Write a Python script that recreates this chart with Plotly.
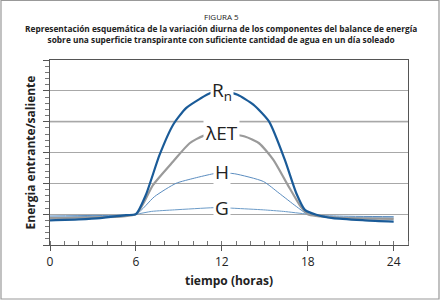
import plotly.graph_objects as go

# --- data ---
t_rn = [0, 2, 3.5, 5.3, 6, 6.7, 7.65, 8.6, 9.5, 10.5, 11.2, 12, 13.1, 14.2, 15.3, 16.4, 17.2, 17.8, 18.6, 19.75, 22, 24]
v_rn = [-0.2, -0.17, -0.13, -0.03, 0, 0.63, 1.92, 2.9, 3.44, 3.75, 3.93, 4.0, 3.87, 3.55, 3.0, 1.76, 0.68, 0.14, -0.02, -0.13, -0.2, -0.24]

t_et = [0, 3, 6, 7.2, 8.6, 9.75, 10.7, 12, 13.6, 14.6, 15.6, 16.6, 17.5, 18, 20, 24]
v_et = [-0.13, -0.1, 0, 0.95, 1.71, 2.3, 2.54, 2.62, 2.52, 2.3, 1.76, 0.95, 0.25, 0, -0.11, -0.15]

t_h = [0, 3, 6, 7.3, 8.8, 10.1, 11.4, 12, 12.9, 14.9, 16.0, 17.2, 18, 20, 24]
v_h = [-0.06, -0.04, 0.0, 0.57, 1.0, 1.17, 1.31, 1.34, 1.31, 1.06, 0.68, 0.25, 0, -0.06, -0.08]

t_g = [0, 3, 6, 7.1, 8.7, 11.4, 12, 12.9, 14.9, 16.3, 18, 20, 24]
v_g = [-0.1, -0.07, 0, 0.09, 0.14, 0.21, 0.21, 0.19, 0.14, 0.09, 0, -0.1, -0.12]

x_ticks = [0, 6, 12, 18, 24]
labels = ["R<sub>n</sub>", "λET", "H", "G"]
label_x = [12, 12, 12, 12]
label_y = [4.0, 2.62, 1.36, 0.2]

fig = go.Figure()
fig.add_trace(go.Scatter(x=t_g, y=v_g, mode="lines", line=dict(color="#6b9bc8", width=1, shape="spline", smoothing=0.6)))
fig.add_trace(go.Scatter(x=t_h, y=v_h, mode="lines", line=dict(color="#5b8dc0", width=1, shape="spline", smoothing=0.6)))
fig.add_trace(go.Scatter(x=t_et, y=v_et, mode="lines", line=dict(color="#9a9a9a", width=2.2, shape="spline", smoothing=0.6)))
fig.add_trace(go.Scatter(x=t_rn, y=v_rn, mode="lines", line=dict(color="#1a5b98", width=2.2, shape="spline", smoothing=0.6)))

for lab, lx, ly in zip(labels, label_x, label_y):
    fig.add_annotation(x=lx, y=ly, text=lab, showarrow=False, bgcolor="white",
                       font=dict(family="Open Sans", size=19, color="#222"),
                       borderpad=1, xanchor="center", yanchor="middle")

# light band gridline at y=3 (drawn over the grid, under the traces)
fig.add_shape(type="line", xref="paper", x0=0, x1=1, yref="y", y0=3, y1=3,
              line=dict(color="#d9d9d9", width=2.5), layer="between")

# outer frame
fig.add_shape(type="rect", xref="paper", yref="paper",
              x0=(1 - 50) / 358, x1=(439 - 50) / 358,
              y0=(245 - 299) / 185, y1=(245 - 0.5) / 185,
              line=dict(color="#999", width=1.2), fillcolor="rgba(0,0,0,0)")

fig.update_layout(
    width=443, height=300,
    margin=dict(l=50, r=35, t=60, b=55),
    paper_bgcolor="white", plot_bgcolor="white",
    showlegend=False,
    font=dict(family="Open Sans", color="#222"),
    xaxis=dict(range=[0, 25], tickvals=x_ticks, ticks="outside", ticklen=5,
               tickcolor="#555", showline=True, linecolor="#555", linewidth=1.2,
               mirror=True, showgrid=False, zeroline=False,
               minor=dict(dtick=1, ticks="inside", ticklen=4, tickcolor="#777"),
               tickfont=dict(size=12),
               title=dict(text="<b>tiempo (horas)</b>", font=dict(size=12), standoff=8)),
    yaxis=dict(range=[-1, 5], dtick=1, ticks="outside", ticklen=6, tickcolor="#555",
               showticklabels=False, showline=True, linecolor="#555", linewidth=1.2,
               mirror=True, showgrid=True, gridcolor="#a8a8a8", gridwidth=1,
               zeroline=False,
               minor=dict(dtick=0.2, ticks="outside", ticklen=4, tickcolor="#777"),
               title=dict(text="<b>Energia entrante/saliente</b>", font=dict(size=12), standoff=4)),
)

fig.add_annotation(xref="paper", yref="paper", x=(221 - 50) / 358, y=(245 - 16) / 185,
                   text="FIGURA 5", showarrow=False, font=dict(size=8), xanchor="center", yanchor="middle")
fig.add_annotation(xref="paper", yref="paper", x=(221 - 50) / 358, y=(245 - 34) / 185,
                   text="<b>Representación esquemática de la variación diurna de los componentes del balance de energía</b><br>"
                        "<b>sobre una superficie transpirante con suficiente cantidad de agua en un día soleado</b>",
                   showarrow=False, font=dict(size=8.3), xanchor="center", yanchor="middle")

fig.write_html("out.html")
